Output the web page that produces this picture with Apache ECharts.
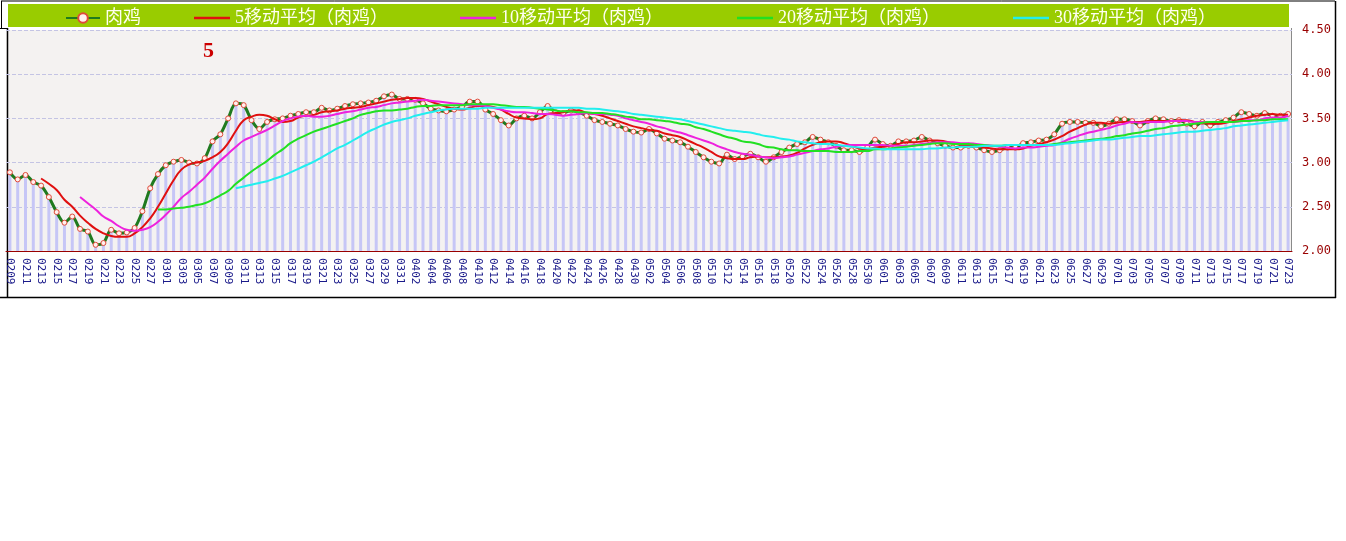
<!DOCTYPE html>
<html><head><meta charset="utf-8">
<script src="https://cdn.jsdelivr.net/npm/echarts@6/dist/echarts.min.js"></script>
<style>html,body{margin:0;padding:0;background:#fff}#c{width:1346px;height:541px}</style>
</head><body><div id="c"></div>
<script>
const categories = [
'0209','0210','0211','0212','0213','0214','0215','0216','0217','0218','0219','0220','0221','0222','0223','0224','0225','0226','0227','0228',
'0301','0302','0303','0304','0305','0306','0307','0308','0309','0310','0311','0312','0313','0314','0315','0316','0317','0318','0319','0320','0321','0322','0323','0324','0325','0326','0327','0328','0329','0330','0331',
'0401','0402','0403','0404','0405','0406','0407','0408','0409','0410','0411','0412','0413','0414','0415','0416','0417','0418','0419','0420','0421','0422','0423','0424','0425','0426','0427','0428','0429','0430',
'0501','0502','0503','0504','0505','0506','0507','0508','0509','0510','0511','0512','0513','0514','0515','0516','0517','0518','0519','0520','0521','0522','0523','0524','0525','0526','0527','0528','0529','0530','0531',
'0601','0602','0603','0604','0605','0606','0607','0608','0609','0610','0611','0612','0613','0614','0615','0616','0617','0618','0619','0620','0621','0622','0623','0624','0625','0626','0627','0628','0629','0630',
'0701','0702','0703','0704','0705','0706','0707','0708','0709','0710','0711','0712','0713','0714','0715','0716','0717','0718','0719','0720','0721','0722','0723'];

const chicken = [
2.89,2.81,2.86,2.78,2.74,2.61,2.44,2.32,2.39,2.25,
2.22,2.07,2.09,2.24,2.20,2.21,2.26,2.45,2.71,2.87,
2.97,3.01,3.03,3.00,2.99,3.05,3.24,3.32,3.50,3.67,
3.65,3.48,3.38,3.46,3.49,3.50,3.53,3.55,3.57,3.57,
3.62,3.59,3.61,3.64,3.66,3.67,3.68,3.70,3.75,3.77,
3.72,3.72,3.71,3.67,3.61,3.59,3.58,3.60,3.63,3.69,
3.69,3.60,3.55,3.48,3.42,3.50,3.53,3.50,3.57,3.64,
3.57,3.56,3.59,3.57,3.53,3.48,3.46,3.44,3.42,3.38,
3.35,3.34,3.38,3.33,3.27,3.25,3.23,3.18,3.12,3.06,
3.01,2.99,3.09,3.04,3.07,3.10,3.06,3.01,3.06,3.12,
3.17,3.21,3.23,3.29,3.26,3.23,3.19,3.14,3.14,3.12,
3.17,3.26,3.21,3.19,3.24,3.24,3.25,3.29,3.25,3.22,
3.19,3.17,3.17,3.19,3.17,3.14,3.12,3.14,3.17,3.17,
3.22,3.23,3.25,3.26,3.32,3.44,3.46,3.46,3.45,3.45,
3.41,3.44,3.49,3.49,3.47,3.42,3.47,3.50,3.49,3.47,
3.48,3.44,3.41,3.46,3.42,3.46,3.48,3.51,3.57,3.55,
3.53,3.56,3.53,3.53,3.55];

const ma5 = [null,null,null,null,
2.82,2.76,2.69,2.58,2.50,2.40,2.32,2.25,2.20,2.17,
2.16,2.16,2.20,2.27,2.37,2.50,2.65,2.80,2.92,2.98,
3.00,3.02,3.06,3.12,3.22,3.36,3.48,3.52,3.54,3.53,
3.49,3.46,3.47,3.51,3.53,3.54,3.57,3.58,3.59,3.61,
3.62,3.63,3.65,3.67,3.69,3.71,3.72,3.73,3.73,3.72,
3.69,3.66,3.63,3.61,3.60,3.62,3.64,3.64,3.63,3.60,
3.55,3.51,3.50,3.49,3.50,3.55,3.56,3.57,3.59,3.59,
3.56,3.55,3.53,3.50,3.47,3.44,3.41,3.39,3.37,3.36,
3.33,3.31,3.29,3.25,3.21,3.17,3.12,3.07,3.05,3.04,
3.04,3.06,3.07,3.06,3.06,3.07,3.08,3.11,3.16,3.20,
3.23,3.24,3.24,3.22,3.19,3.16,3.15,3.17,3.18,3.19,
3.21,3.23,3.23,3.24,3.25,3.25,3.24,3.22,3.20,3.19,
3.18,3.17,3.16,3.15,3.15,3.15,3.16,3.19,3.21,3.23,
3.26,3.30,3.35,3.39,3.43,3.45,3.45,3.44,3.45,3.46,
3.46,3.46,3.47,3.47,3.47,3.47,3.48,3.48,3.46,3.45,
3.44,3.44,3.45,3.47,3.49,3.51,3.53,3.54,3.55,3.54,
3.54];

const ma10 = [null,null,null,null,null,null,null,null,null,
2.61,
2.54,2.47,2.39,2.34,2.28,2.24,2.23,2.24,2.27,2.33,
2.41,2.50,2.60,2.67,2.75,2.83,2.93,3.02,3.10,3.18,
3.25,3.29,3.33,3.37,3.42,3.47,3.50,3.52,3.53,3.52,
3.52,3.53,3.55,3.57,3.58,3.60,3.62,3.63,3.65,3.67,
3.68,3.69,3.70,3.71,3.70,3.69,3.68,3.67,3.66,3.65,
3.65,3.64,3.62,3.60,3.58,3.57,3.57,3.56,3.55,3.55,
3.54,3.53,3.54,3.55,3.56,3.55,3.55,3.54,3.53,3.50,
3.48,3.46,3.44,3.41,3.39,3.36,3.34,3.31,3.28,3.25,
3.22,3.18,3.15,3.12,3.10,3.09,3.07,3.06,3.05,3.06,
3.07,3.09,3.11,3.13,3.15,3.16,3.18,3.19,3.20,3.20,
3.20,3.20,3.20,3.19,3.19,3.19,3.20,3.21,3.22,3.23,
3.23,3.23,3.22,3.22,3.21,3.20,3.19,3.18,3.17,3.16,
3.17,3.17,3.18,3.19,3.20,3.23,3.27,3.30,3.33,3.35,
3.37,3.39,3.42,3.44,3.46,3.45,3.46,3.46,3.46,3.47,
3.47,3.47,3.46,3.46,3.46,3.46,3.46,3.46,3.47,3.48,
3.48,3.50,3.51,3.51,3.53];

const ma20 = [null,null,null,null,null,null,null,null,null,null,null,null,null,null,null,null,null,null,null,
2.47,
2.47,2.48,2.49,2.50,2.52,2.54,2.58,2.63,2.68,2.76,
2.83,2.90,2.96,3.02,3.09,3.15,3.22,3.27,3.31,3.35,
3.38,3.41,3.44,3.47,3.50,3.54,3.56,3.58,3.59,3.59,
3.60,3.61,3.63,3.64,3.64,3.65,3.65,3.65,3.65,3.66,
3.66,3.66,3.66,3.65,3.64,3.63,3.63,3.62,3.61,3.60,
3.59,3.58,3.58,3.57,3.57,3.56,3.56,3.55,3.54,3.52,
3.51,3.49,3.49,3.48,3.47,3.46,3.44,3.43,3.40,3.38,
3.35,3.32,3.29,3.27,3.24,3.23,3.21,3.18,3.17,3.15,
3.14,3.14,3.13,3.13,3.13,3.13,3.12,3.12,3.12,3.13,
3.13,3.15,3.15,3.16,3.17,3.18,3.19,3.20,3.21,3.22,
3.22,3.21,3.21,3.21,3.20,3.20,3.19,3.19,3.20,3.20,
3.20,3.20,3.20,3.20,3.21,3.22,3.23,3.24,3.25,3.26,
3.27,3.28,3.30,3.31,3.33,3.34,3.36,3.38,3.39,3.41,
3.42,3.43,3.44,3.45,3.46,3.46,3.46,3.46,3.47,3.47,
3.48,3.48,3.49,3.49,3.49];

const ma30 = [null,null,null,null,null,null,null,null,null,null,null,null,null,null,null,null,null,null,null,null,null,null,null,null,null,null,null,null,null,
2.71,
2.73,2.75,2.77,2.79,2.82,2.85,2.89,2.93,2.97,3.01,
3.06,3.11,3.16,3.20,3.25,3.30,3.35,3.39,3.43,3.46,
3.48,3.50,3.53,3.55,3.57,3.59,3.60,3.61,3.61,3.61,
3.61,3.62,3.62,3.62,3.62,3.62,3.62,3.62,3.62,3.62,
3.62,3.62,3.62,3.62,3.61,3.61,3.60,3.59,3.58,3.57,
3.55,3.54,3.53,3.52,3.51,3.50,3.49,3.47,3.45,3.43,
3.41,3.39,3.37,3.36,3.35,3.34,3.32,3.30,3.29,3.27,
3.26,3.24,3.23,3.22,3.21,3.21,3.20,3.19,3.18,3.17,
3.16,3.16,3.15,3.15,3.15,3.15,3.15,3.15,3.16,3.16,
3.17,3.17,3.18,3.18,3.18,3.19,3.19,3.19,3.20,3.20,
3.20,3.20,3.20,3.20,3.20,3.21,3.22,3.23,3.24,3.25,
3.26,3.26,3.27,3.28,3.29,3.30,3.30,3.31,3.32,3.33,
3.34,3.35,3.35,3.36,3.37,3.38,3.39,3.41,3.42,3.43,
3.44,3.45,3.46,3.47,3.48];

const names = ['肉鸡','5移动平均（肉鸡）','10移动平均（肉鸡）','20移动平均（肉鸡）','30移动平均（肉鸡）'];
const titleText = '5';

const chart = echarts.init(document.getElementById('c'), null, {renderer:'canvas'});
const legendFont = {color:'#fffff0', fontSize:18, fontFamily:'"Liberation Serif","Noto Sans CJK SC",serif'};
const legendLefts = [60, 189, 455, 732, 1008];
const lineColors = ['#1f7a1f','#e01010','#ee22dd','#22e022','#22eeee'];
const legendLineIcon = 'path://M0,0L40,0L40,3L0,3Z';

chart.setOption({
  animation:false,
  backgroundColor:'#ffffff',
  graphic:[
    {type:'rect', z:-5, shape:{x:8,y:4,width:1281,height:23}, style:{fill:'#99cc00'}},
    {type:'line', shape:{x1:1,y1:1,x2:1335,y2:1}, style:{stroke:'#000',lineWidth:1}},
    {type:'line', shape:{x1:1.5,y1:1,x2:1.5,y2:28}, style:{stroke:'#000',lineWidth:1}},
    {type:'line', shape:{x1:0,y1:28.5,x2:8,y2:28.5}, style:{stroke:'#000',lineWidth:1}},
    {type:'line', shape:{x1:7.5,y1:28,x2:7.5,y2:297}, style:{stroke:'#000',lineWidth:1.5}},
    {type:'line', shape:{x1:0,y1:297.5,x2:1336,y2:297.5}, style:{stroke:'#000',lineWidth:1.5}},
    {type:'line', shape:{x1:1335.5,y1:1,x2:1335.5,y2:298}, style:{stroke:'#000',lineWidth:1.5}},
    {type:'line', shape:{x1:1291.5,y1:28,x2:1291.5,y2:251}, style:{stroke:'#8a8a8a',lineWidth:1}},
    {type:'text', left:203, top:40, style:{text:titleText, fill:'#cc0000', font:'bold 22px "Liberation Serif", serif'}}
  ],
  legend: names.map((n,i)=>({
    left:legendLefts[i], top:4, itemWidth: i===0 ? 34 : 36, itemHeight: i===0 ? 12 : 3, itemGap:0,
    data:[ i===0 ? {name:n} : {name:n, icon:legendLineIcon} ], textStyle:legendFont, selectedMode:false
  })),
  grid:{left:6, right:54, top:30, bottom:290, show:true, backgroundColor:'#f4f2f1', borderWidth:0},
  xAxis:{
    type:'category', data:categories, boundaryGap:true,
    axisLine:{lineStyle:{color:'#990000', width:1}},
    axisTick:{show:true, inside:true, length:4, interval:1, alignWithLabel:true, lineStyle:{color:'#990000'}},
    axisLabel:{interval:1, rotate:-90, margin:7, color:'#1a1a8a', fontSize:11, fontFamily:'"DejaVu Sans Mono", monospace'},
    splitLine:{show:false}
  },
  yAxis:{
    type:'value', position:'right', min:2, max:4.5, interval:0.5,
    axisLine:{show:false}, axisTick:{show:false},
    axisLabel:{margin:10, color:'#990000', fontSize:12, fontFamily:'"DejaVu Sans Mono", monospace', formatter:v=>v.toFixed(2)},
    splitLine:{show:true, lineStyle:{color:'#c4c4e4', type:'dashed', width:1}}
  },
  series:[
    {name:'bars', type:'bar', data:chicken, barWidth:3, silent:true, z:1, itemStyle:{color:'#c6c6f6'}},
    {name:names[0], type:'line', data:chicken, smooth:0.3, z:3,
      symbol:'circle', symbolSize:5, showSymbol:true, showAllSymbol:true,
      lineStyle:{color:lineColors[0], width:3},
      itemStyle:{color:'#fff0ee', borderColor:'#e04a3a', borderWidth:1}},
    {name:names[1], type:'line', data:ma5, smooth:true, showSymbol:false, z:4, lineStyle:{color:lineColors[1], width:2}, itemStyle:{color:lineColors[1]}},
    {name:names[2], type:'line', data:ma10, smooth:true, showSymbol:false, z:4, lineStyle:{color:lineColors[2], width:2}, itemStyle:{color:lineColors[2]}},
    {name:names[3], type:'line', data:ma20, smooth:true, showSymbol:false, z:4, lineStyle:{color:lineColors[3], width:2}, itemStyle:{color:lineColors[3]}},
    {name:names[4], type:'line', data:ma30, smooth:true, showSymbol:false, z:4, lineStyle:{color:lineColors[4], width:2}, itemStyle:{color:lineColors[4]}}
  ]
});
</script></body></html>
